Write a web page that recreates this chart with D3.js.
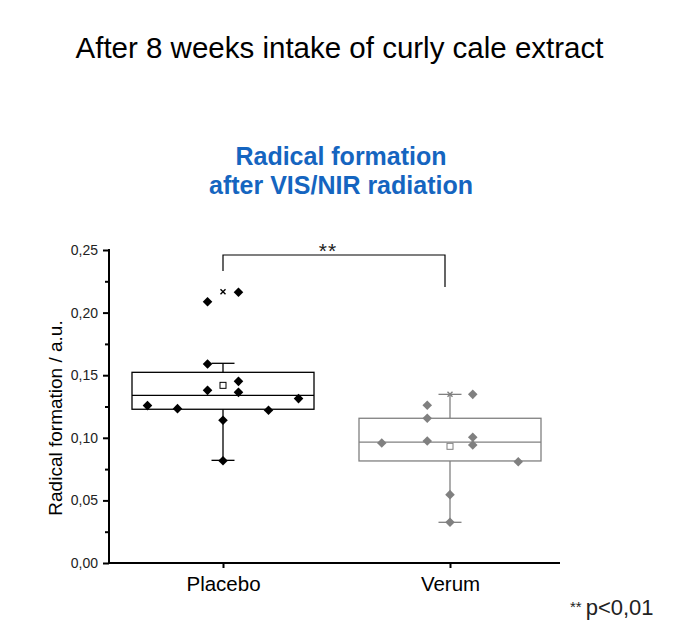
<!DOCTYPE html>
<html>
<head>
<meta charset="utf-8">
<script src="https://cdn.jsdelivr.net/npm/d3@7"></script>
<style>
body { margin: 0; background: #fff; }
svg { display: block; font-family: "Liberation Sans", Arial, sans-serif; }
</style>
</head>
<body>
<svg id="chart" width="688" height="638"></svg>
<script>
const categories = ["Placebo", "Verum"];
const placeboValues = [0.2087, 0.2162, 0.1589, 0.1451, 0.1379, 0.1363, 0.1257, 0.1233, 0.1220, 0.1313, 0.1140, 0.0817];
const placeboJitter = [-0.17, 0.17, -0.17, 0.17, -0.17, 0.17, -0.83, -0.5, 0.5, 0.83, 0, 0];
const verumValues = [0.1347, 0.1260, 0.1156, 0.0974, 0.0958, 0.1004, 0.0942, 0.0809, 0.0546, 0.0325];
const verumJitter = [0.25, -0.25, -0.25, -0.25, -0.75, 0.25, 0.25, 0.75, 0, 0];
// box stats: [q1, median, q3, whiskerLow, whiskerHigh, mean, max marker]
const placeboBox = [0.1228, 0.1339, 0.1523, 0.0820, 0.1595, 0.1419, 0.2167];
const verumBox = [0.0815, 0.0966, 0.1156, 0.0325, 0.1347, 0.0932, 0.1347];
const yTicks = [0, 0.05, 0.10, 0.15, 0.20, 0.25];
const yMinorTicks = [0.025, 0.075, 0.125, 0.175, 0.225];

const svg = d3.select("#chart");
const x = d3.scalePoint().domain(categories).range([223, 450]);
const y = d3.scaleLinear().domain([0, 0.25]).range([563, 250]);
const jit = d3.scaleLinear().domain([-1, 1]).range([-91, 91]);

// Titles
svg.append("text").attr("x", 339.5).attr("y", 58).attr("text-anchor", "middle")
  .style("font-size", "29.5px").attr("fill", "#000")
  .text("After 8 weeks intake of curly cale extract");
svg.append("text").attr("x", 341).attr("y", 165).attr("text-anchor", "middle")
  .style("font-size", "25px").style("font-weight", "bold").attr("fill", "#1565c0")
  .text("Radical formation");
svg.append("text").attr("x", 341).attr("y", 194).attr("text-anchor", "middle")
  .style("font-size", "25px").style("font-weight", "bold").attr("fill", "#1565c0")
  .text("after VIS/NIR radiation");

// Y axis
const yAxis = svg.append("g").attr("transform", "translate(109,0)")
  .call(d3.axisLeft(y).tickValues(yTicks).tickSize(6).tickPadding(5)
    .tickFormat(d => d3.format(".2f")(d).replace(".", ",")));
yAxis.select(".domain").attr("stroke-width", 2).attr("d", "M0," + (y(0.25) - 1) + "V" + y(0) );
yAxis.selectAll(".tick line").attr("stroke-width", 2);
yAxis.selectAll(".tick text").style("font-size", "14px").attr("fill", "#222");
svg.append("g").attr("transform", "translate(109,0)")
  .call(d3.axisLeft(y).tickValues(yMinorTicks).tickSize(4).tickFormat(""))
  .call(g => g.select(".domain").remove())
  .selectAll(".tick line").attr("stroke-width", 2);

// X axis
const xAxis = svg.append("g").attr("transform", "translate(0,563)")
  .call(d3.axisBottom(x).tickSize(5).tickPadding(8));
xAxis.select(".domain").attr("stroke-width", 2).attr("d", "M108,0H560");
xAxis.selectAll(".tick line").attr("stroke-width", 2);
xAxis.selectAll(".tick text").style("font-size", "20.5px").attr("fill", "#000");

// Y label
svg.append("text").attr("transform", "translate(62,418) rotate(-90)")
  .attr("text-anchor", "middle").style("font-size", "19px").attr("fill", "#000")
  .text("Radical formation / a.u.");

// Boxes
const groups = [
  { cat: "Placebo", box: placeboBox, vals: placeboValues, jit: placeboJitter, color: "#000" },
  { cat: "Verum", box: verumBox, vals: verumValues, jit: verumJitter, color: "#808080" }
];
const halfW = 91, capW = 11.5;
groups.forEach(gr => {
  const cx = x(gr.cat);
  const [q1, med, q3, wl, wh, mean, mx] = gr.box;
  const g = svg.append("g").attr("stroke", gr.color).attr("fill", "none").attr("stroke-width", 1.3);
  g.append("line").attr("x1", cx).attr("x2", cx).attr("y1", y(q3)).attr("y2", y(wh));
  g.append("line").attr("x1", cx).attr("x2", cx).attr("y1", y(q1)).attr("y2", y(wl));
  g.append("line").attr("x1", cx - capW).attr("x2", cx + capW).attr("y1", y(wh)).attr("y2", y(wh));
  g.append("line").attr("x1", cx - capW).attr("x2", cx + capW).attr("y1", y(wl)).attr("y2", y(wl));
  g.append("rect").attr("x", cx - halfW).attr("y", y(q3)).attr("width", 2 * halfW).attr("height", y(q1) - y(q3));
  g.append("line").attr("x1", cx - halfW).attr("x2", cx + halfW).attr("y1", y(med)).attr("y2", y(med));
  // points
  const pts = svg.append("g").attr("fill", gr.color);
  gr.vals.forEach((v, i) => {
    pts.append("path")
      .attr("d", d3.symbol().type(d3.symbolSquare).size(46)())
      .attr("transform", `translate(${cx + jit(gr.jit[i])},${y(v)}) rotate(45)`);
  });
  // mean square
  svg.append("rect").attr("x", cx - 3).attr("y", y(mean) - 3).attr("width", 6).attr("height", 6)
    .attr("fill", "#fff").attr("stroke", gr.color).attr("stroke-width", 1);
  // max cross
  const my = y(mx);
  svg.append("path").attr("d", `M${cx-2.5},${my-2.5}L${cx+2.5},${my+2.5}M${cx-2.5},${my+2.5}L${cx+2.5},${my-2.5}`)
    .attr("stroke", gr.color).attr("stroke-width", 1.4);
});

// Significance bracket
const br = svg.append("g").attr("stroke", "#000").attr("stroke-width", 1.2).attr("fill", "none");
br.append("path").attr("d", `M${x("Placebo")},271V255H445V287`);
svg.append("text").attr("x", 328).attr("y", 258).attr("text-anchor", "middle")
  .style("font-size", "21px").style("letter-spacing", "1px").attr("fill", "#222").text("**");

// p-value note
const pn = svg.append("text").attr("x", 570).attr("y", 615).attr("fill", "#222");
pn.append("tspan").style("font-size", "15px").attr("dy", "-3").text("**");
pn.append("tspan").style("font-size", "22px").attr("dy", "3").attr("dx", "4").text("p<0,01");
</script>
</body>
</html>
